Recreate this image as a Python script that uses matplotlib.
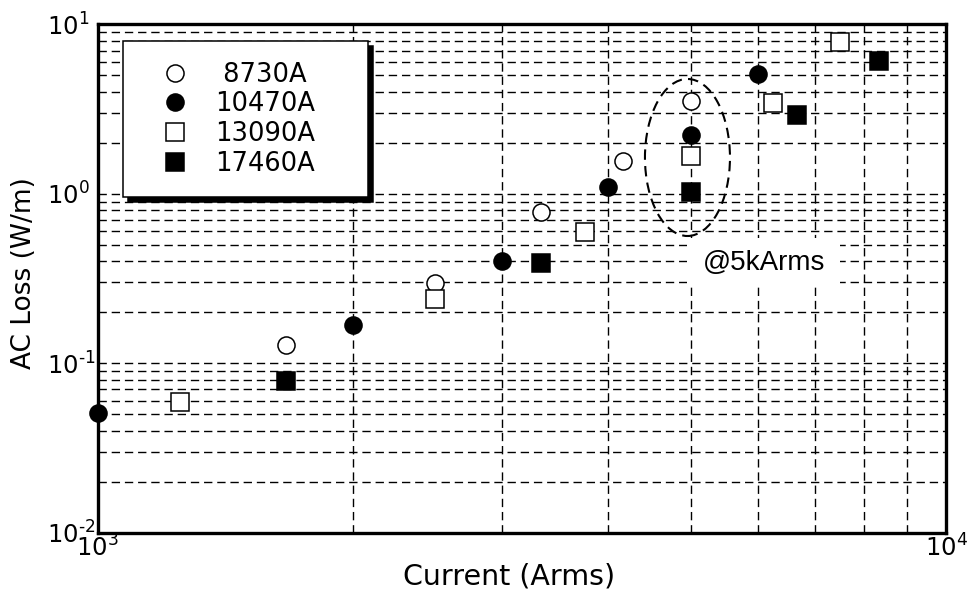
import matplotlib
matplotlib.use("Agg")
import matplotlib.pyplot as plt
from matplotlib.patches import Ellipse, Rectangle
from matplotlib.ticker import FuncFormatter, LogLocator, NullFormatter
import numpy as np

plt.rcParams["font.family"] = ["DejaVu Sans"]
plt.rcParams["mathtext.fontset"] = "dejavusans"

# AC loss vs RMS current for four conductor ratings
I_8730 = [1667, 2500, 3333, 4167, 5000]
loss_8730 = [0.128, 0.296, 0.784, 1.56, 3.53]

I_10470 = [1000, 2000, 3000, 4000, 5000, 6000]
loss_10470 = [0.0509, 0.167, 0.400, 1.09, 2.22, 5.09]

I_13090 = [1250, 2500, 3750, 5000, 6250, 7500]
loss_13090 = [0.0591, 0.239, 0.598, 1.68, 3.45, 7.89]

I_17460 = [1667, 3333, 5000, 6667, 8333]
loss_17460 = [0.0787, 0.392, 1.02, 2.93, 6.07]

series = [
    (I_8730, loss_8730, "o", "white", " 8730A"),
    (I_10470, loss_10470, "o", "black", "10470A"),
    (I_13090, loss_13090, "s", "white", "13090A"),
    (I_17460, loss_17460, "s", "black", "17460A"),
]


def pow10(v, pos):
    # short hyphen in the exponent instead of the mathtext minus
    e = int(round(np.log10(v)))
    if e < 0:
        return r"$10^{\text{-}%d}$" % -e
    return r"$10^{%d}$" % e


fig = plt.figure(figsize=(9.76, 6.05), dpi=100)
ax = fig.add_axes([97.5 / 976, 1 - 532.7 / 605, 848.5 / 976, 508.4 / 605])

for x, y, mk, fc, lab in series:
    ax.plot(x, y, linestyle="none", marker=mk, markersize=12.3,
            markerfacecolor=fc, markeredgecolor="black", markeredgewidth=1.1,
            clip_on=False, zorder=4, label=lab)

ax.set_xscale("log")
ax.set_yscale("log")
ax.set_xlim(1e3, 1e4)
ax.set_ylim(1e-2, 1e1)
for axis in (ax.xaxis, ax.yaxis):
    axis.set_major_locator(LogLocator(base=10))
    axis.set_minor_locator(LogLocator(base=10, subs=range(2, 10)))
    axis.set_major_formatter(FuncFormatter(pow10))
    axis.set_minor_formatter(NullFormatter())

ax.set_axisbelow(True)
ax.grid(True, which="both", color="black", linestyle=(0, (6, 3.5)), linewidth=1.0)
for sp in ax.spines.values():
    sp.set_linewidth(2.4)

ax.tick_params(which="both", length=0)
ax.tick_params(axis="x", labelsize=17.5, pad=1.5)
ax.tick_params(axis="y", labelsize=17.5, pad=36.5)
for t in ax.yaxis.get_major_ticks():
    t.label1.set_horizontalalignment("left")

ax.set_xlabel("Current (Arms)", fontsize=20.5)
ax.xaxis.set_label_coords(0.485, -0.058)
ax.set_ylabel("AC Loss (W/m)", fontsize=19)
ax.yaxis.set_label_coords(-0.071, 0.51)

# dashed ring around the 5 kArms points
ax.add_patch(Ellipse((0.6953, 0.738), 0.1002, 0.3088, transform=ax.transAxes,
                     fill=False, edgecolor="black", linewidth=1.5,
                     linestyle=(0, (5, 3)), zorder=3))
ax.add_patch(Rectangle((0.6948, 0.4892), 0.1802, 0.0905, transform=ax.transAxes,
                       facecolor="white", edgecolor="none", zorder=1))
ax.text(0.785, 0.531, "@5kArms", transform=ax.transAxes, ha="center", va="center",
        fontsize=20, family=["Liberation Sans", "DejaVu Sans"], zorder=2)

leg = ax.legend(loc="upper left", bbox_to_anchor=(0.0301, 0.967, 0.2887, 0),
                mode="expand", borderaxespad=0, fontsize=18.5, borderpad=0.8,
                handlelength=2.45, handletextpad=0.33, labelspacing=0.145,
                numpoints=1, fancybox=False, framealpha=1, edgecolor="black",
                shadow={"ox": 3.3, "oy": -3.3, "color": "black", "alpha": 1})
leg.get_frame().set_linewidth(1.1)
leg.set_zorder(10)

fig.savefig("out.png", dpi=100)
